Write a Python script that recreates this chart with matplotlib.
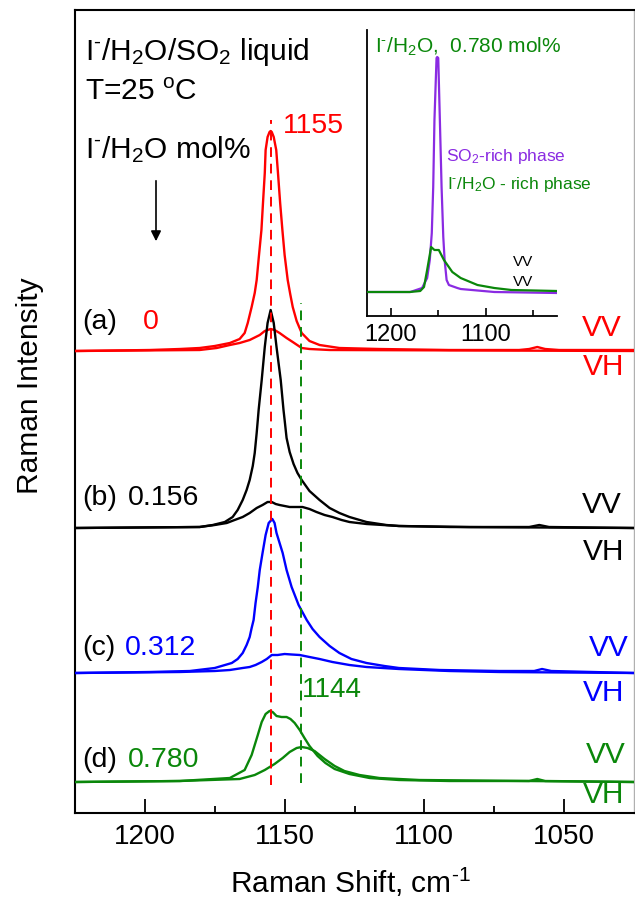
import matplotlib
matplotlib.use("Agg")
import matplotlib.pyplot as plt
from matplotlib.patches import FancyArrowPatch

plt.rcParams['font.family'] = ['Liberation Sans', 'DejaVu Sans']
plt.rcParams['mathtext.fontset'] = 'custom'
plt.rcParams['mathtext.rm'] = 'Liberation Sans'
plt.rcParams['mathtext.it'] = 'Liberation Sans'
plt.rcParams['mathtext.bf'] = 'Liberation Sans'
plt.rcParams['mathtext.sf'] = 'Liberation Sans'

# ---------------- data (Raman shift cm-1, relative intensity) ----------------
red_vv_x = [1225, 1198.2, 1187.5, 1180.4, 1175.0, 1169.6, 1166.1, 1164.3, 1163.2, 1161.8, 1160.7, 1160.0,
            1159.3, 1158.3, 1157.7, 1157.1, 1156.8, 1156.1, 1155.4, 1155.0, 1154.6, 1153.9, 1153.0, 1152.3,
            1151.6, 1150.8, 1150.0, 1148.9, 1148.0, 1147.1, 1145.7, 1143.9, 1141.1, 1137.5, 1130.4, 1116.1,
            1091.1, 1066.1, 1062.5, 1059.6, 1056.8, 1051.8, 1025]
red_vv_y = [0, 1, 2, 3, 5, 8, 12, 18, 28, 44, 58, 71, 92, 121, 150, 178, 201, 214, 219, 220, 219, 214, 201,
            175, 148, 121, 96, 71, 57, 44, 30, 18, 10, 6, 3, 2, 1, 1, 2, 4, 2, 1, 1]
red_vh_x = [1225, 1180.4, 1174.3, 1169.6, 1166.1, 1162.5, 1158.9, 1157.1, 1155.0, 1153.6, 1151.8, 1149.3,
            1147.1, 1143.9, 1141.1, 1133.9, 1025]
red_vh_y = [0, 1, 3, 6, 8, 11, 16, 20, 22, 21, 18, 13, 9, 3, 2, 1, 0]

blk_vv_x = [1225, 1180.4, 1175.7, 1171.4, 1168.6, 1166.8, 1165.0, 1163.6, 1162.5, 1161.4, 1160.7, 1160.0,
            1159.6, 1159.3, 1158.2, 1157.1, 1156.1, 1155.0, 1153.9, 1152.9, 1151.4, 1150.4, 1150.0, 1149.3,
            1148.2, 1146.8, 1145.4, 1143.9, 1141.1, 1137.5, 1133.9, 1130.4, 1126.8, 1120.7, 1113.6, 1109.1,
            1083.9, 1062.5, 1058.9, 1055.4, 1025]
blk_vv_y = [0, 1, 3, 6, 11, 18, 28, 38, 48, 62, 75, 95, 108, 118, 148, 181, 205, 218, 205, 181, 148, 118,
            108, 90, 76, 64, 55, 48, 37, 28, 20, 15, 11, 6, 3, 2, 1, 1, 3, 1, 0]
blk_vh_x = [1225, 1180.4, 1175.0, 1170.7, 1167.9, 1165.0, 1162.5, 1160.0, 1157.9, 1156.1, 1154.6, 1153.2,
            1151.8, 1148.2, 1143.6, 1141.1, 1138.6, 1135.7, 1132.9, 1129.6, 1126.8, 1120.7, 1109.1, 1091.1,
            1025]
blk_vh_y = [0, 1, 3, 5, 8, 11, 15, 20, 23, 26, 26, 24, 23, 21, 21, 19, 16, 13, 11, 8, 6, 4, 2, 1, 0]

blu_vv_x = [1225, 1198.2, 1183.9, 1175.0, 1168.9, 1166.8, 1165.0, 1163.6, 1162.5, 1161.8, 1161.1, 1160.4,
            1159.6, 1158.9, 1157.9, 1156.8, 1155.7, 1154.4, 1153.6, 1152.9, 1151.8, 1150.7, 1149.3, 1147.5,
            1145.0, 1142.1, 1140.0, 1137.5, 1133.9, 1130.4, 1126.1, 1120.7, 1114.3, 1109.1, 1094.6, 1073.2,
            1060.7, 1057.9, 1054.6, 1025]
blu_vv_y = [0, 1, 2, 5, 10, 14, 20, 28, 36, 45, 53, 70, 86, 103, 120, 138, 150, 154, 150, 140, 130, 120,
            103, 86, 68, 53, 44, 36, 27, 20, 14, 10, 7, 5, 3, 2, 2, 4, 2, 0]
blu_vh_x = [1225, 1187.5, 1175.0, 1169.6, 1165.0, 1162.5, 1160.4, 1158.2, 1156.4, 1154.6, 1152.5, 1150.0,
            1147.5, 1144.6, 1141.1, 1137.5, 1132.9, 1126.8, 1120.7, 1109.1, 1091.1, 1073.2, 1025]
blu_vh_y = [0, 1, 2, 3, 5, 6, 8, 11, 14, 18, 18, 19, 18.5, 18, 16, 14, 11, 8, 6, 4, 2, 1, 0]

grn_vv_x = [1225, 1187.5, 1169.6, 1164.3, 1161.8, 1159.6, 1158.2, 1156.8, 1155.4, 1154.3, 1152.9, 1151.1,
            1149.3, 1147.9, 1146.4, 1144.6, 1142.9, 1141.1, 1138.2, 1135.4, 1132.1, 1126.8, 1119.6, 1109.1,
            1091.1, 1062.5, 1059.6, 1056.8, 1025]
grn_vv_y = [0, 1, 4, 12, 27, 47, 60, 68, 71, 70, 66, 65, 65, 63, 59, 52, 44, 36, 26, 19, 13, 8, 4, 2, 1, 1,
            3, 1, 0]
grn_vh_x = [1225, 1187.5, 1166.1, 1160.7, 1157.1, 1153.6, 1150.7, 1148.2, 1145.7, 1143.9, 1141.8, 1139.3,
            1135.7, 1132.1, 1128.6, 1123.2, 1116.1, 1101.8, 1025]
grn_vh_y = [0, 1, 3, 7, 12, 18, 24, 30, 34, 35, 34, 31, 23, 16, 11, 7, 4, 2, 0]

# stacking offsets of the four samples (a)-(d)
offsets = [462, 285, 140, 31]
samples = ['(a)', '(b)', '(c)', '(d)']
mol_pct = ['0', '0.156', '0.312', '0.780']
colors = ['#ff0000', '#000000', '#0000ff', '#0a870a']

# inset: 0.780 mol% sample, two phases (VV)
ins_so2_x = [1225, 1179.4, 1167.0, 1161.7, 1158.9, 1156.8, 1155.3, 1154.0, 1151.8, 1151.1, 1150.0, 1148.3,
             1146.5, 1144.7, 1143.3, 1141.2, 1138.8, 1129.9, 1126.4, 1091.0, 1025]
ins_so2_y = [24, 24, 28, 38, 56, 83, 129, 196, 258, 259, 258, 196, 129, 79, 56, 36, 31, 28, 27, 24, 23]
ins_aq_x = [1225, 1180, 1169, 1165, 1161.7, 1157.5, 1154, 1149.4, 1144, 1135.2, 1126.4, 1108.7, 1091, 1073,
            1025]
ins_aq_y = [24, 24, 25, 29, 46, 69, 66, 66, 56, 44, 38, 31, 28, 26, 25]

peak_main = 1155
peak_aq = 1144

W, H = 635, 901
fig = plt.figure(figsize=(W / 100, H / 100), dpi=100)


def fx(px):
    return px / W


def fy(py):
    return 1 - py / H


# main axes
L, R, T, B = 75, 634, 10, 813
ax = fig.add_axes([fx(L), fy(B), fx(R - L), (B - T) / H])
ax.set_xlim(1225, 1025)
ax.set_ylim(0, 803)

series = [(red_vv_x, red_vv_y, red_vh_x, red_vh_y),
          (blk_vv_x, blk_vv_y, blk_vh_x, blk_vh_y),
          (blu_vv_x, blu_vv_y, blu_vh_x, blu_vh_y),
          (grn_vv_x, grn_vv_y, grn_vh_x, grn_vh_y)]
for (vx, vy, hx, hy), off, c in zip(series, offsets, colors):
    ax.plot(vx, [v + off for v in vy], color=c, lw=1.7, zorder=3, solid_joinstyle='round')
    ax.plot(hx, [v + off for v in hy], color=c, lw=1.7, zorder=3, solid_joinstyle='round')

ax.plot([peak_main, peak_main], [28, 693], color='#ff0000', lw=1.4, ls=(0, (5, 3.5)), zorder=4)
ax.plot([peak_aq, peak_aq], [30, 510], color='#0a870a', lw=1.4, ls=(0, (5, 3.5)), zorder=4)

ax.set_xticks([1200, 1150, 1100, 1050])
ax.set_xticks([1175, 1125, 1075], minor=True)
ax.set_yticks([])
ax.tick_params(axis='x', which='major', direction='in', length=10, width=1.3, labelsize=20, pad=8)
ax.tick_params(axis='x', which='minor', direction='in', length=5, width=1.3)
for s in ax.spines.values():
    s.set_linewidth(1.5)
ax.spines['right'].set_color('#b0b0b0')
ax.spines['right'].set_linewidth(1.0)

fig.text(fx(350), fy(882), 'Raman Shift, cm$^{\\text{-1}}$', ha='center', va='center', fontsize=21.5)
fig.text(fx(30), fy(386), 'Raman Intensity', ha='center', va='center', rotation=90, fontsize=21.5)

# header texts
fig.text(fx(85), fy(52), 'I$^{\\text{-}}$/H$_2$O/SO$_2$ liquid', ha='left', va='center', fontsize=21.5)
fig.text(fx(85), fy(92), 'T=25 $^{\\rm o}$C', ha='left', va='center', fontsize=21.5)
fig.text(fx(85), fy(150), 'I$^{\\text{-}}$/H$_2$O mol%', ha='left', va='center', fontsize=21.5)
fig.add_artist(FancyArrowPatch((fx(156), fy(178)), (fx(156), fy(244)),
                               transform=fig.transFigure, arrowstyle='-|>',
                               mutation_scale=15, color='black', lw=1.2))

fig.text(fx(283), fy(126), str(peak_main), color='#ff0000', ha='left', va='center', fontsize=20.5)
fig.text(fx(302), fy(690), str(peak_aq), color='#0a870a', ha='left', va='center', fontsize=20)

label_y = [322, 498, 648, 760]
num_x = [143, 128, 125, 128]
for s, m, c, yy, nx in zip(samples, mol_pct, colors, label_y, num_x):
    fig.text(fx(82), fy(yy), s, ha='left', va='center', fontsize=20.5)
    fig.text(fx(nx), fy(yy), m, color=c, ha='left', va='center', fontsize=20.5)

vv_y = [328, 505, 648, 755]
vh_y = [367, 552, 693, 795]
vv_x = [582, 582, 589, 586]
for c, a, b, xx in zip(colors, vv_y, vh_y, vv_x):
    fig.text(fx(xx), fy(a), 'VV', color=c, ha='left', va='center', fontsize=21.5)
    fig.text(fx(583), fy(b), 'VH', color=c, ha='left', va='center', fontsize=21.5)

# inset
iL, iR, iT, iB = 367, 557, 30, 316
ins = fig.add_axes([fx(iL), fy(iB), fx(iR - iL), (iB - iT) / H])
ins.patch.set_alpha(0)
ins.set_xlim(1225, 1025)
ins.set_ylim(0, 286)
ins.plot(ins_so2_x, ins_so2_y, color='#8a2be2', lw=1.6, solid_joinstyle='round', zorder=2)
ins.plot(ins_aq_x, ins_aq_y, color='#0a870a', lw=1.6, solid_joinstyle='round', zorder=3)
ins.set_xticks([1200, 1100])
ins.set_xticks([1150, 1050], minor=True)
ins.set_yticks([])
ins.tick_params(axis='x', which='major', direction='in', length=6, width=1.2, labelsize=17, pad=6)
ins.tick_params(axis='x', which='minor', direction='in', length=4, width=1.2)
ins.spines['top'].set_visible(False)
ins.spines['right'].set_visible(False)
for sp in ['left', 'bottom']:
    ins.spines[sp].set_linewidth(1.3)

fig.text(fx(375), fy(47), 'I$^{\\text{-}}$/H$_2$O,  0.780 mol%', color='#0a870a', ha='left', va='center',
         fontsize=15)
fig.text(fx(446), fy(157), 'SO$_2$-rich phase', color='#8a2be2', ha='left', va='center', fontsize=12.5)
fig.text(fx(447), fy(185), 'I$^{\\text{-}}$/H$_2$O - rich phase', color='#0a870a', ha='left', va='center',
         fontsize=12.5)
fig.text(fx(513), fy(262), 'VV', color='black', ha='left', va='center', fontsize=11)
fig.text(fx(513), fy(282), 'VV', color='black', ha='left', va='center', fontsize=11)

fig.savefig('out.png', dpi=100)
